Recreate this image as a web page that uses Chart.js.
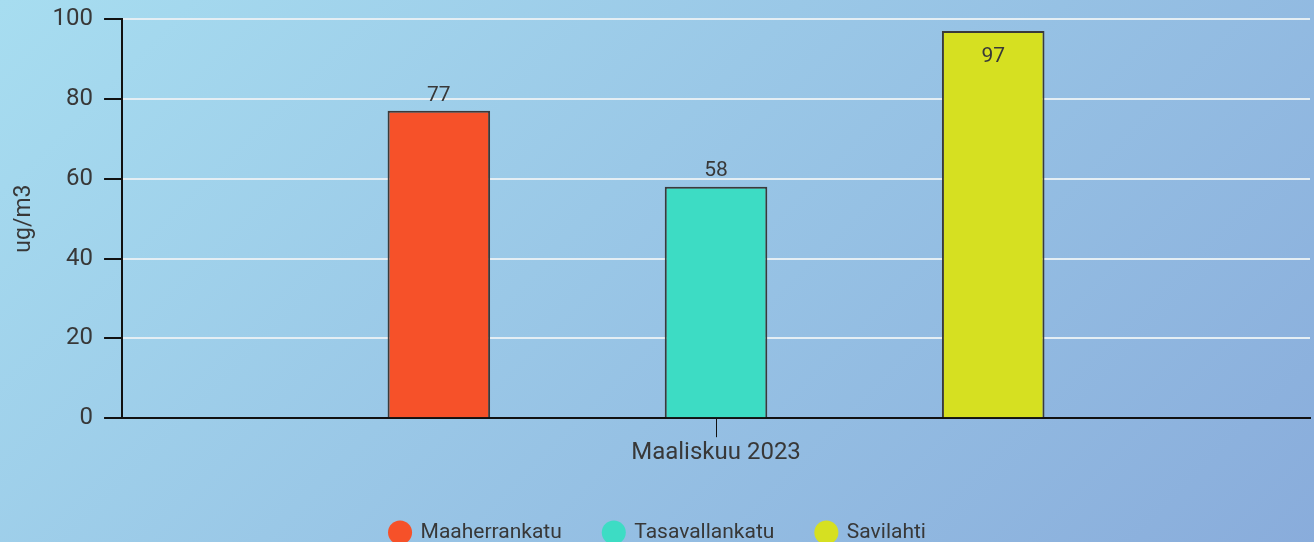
<!DOCTYPE html>
<html>
<head>
<meta charset="utf-8">
<script src="https://cdn.jsdelivr.net/npm/chart.js@4"></script>
<style>
    html, body { margin: 0; padding: 0; overflow: hidden; }
    #wrap {
        width: 1314px;
        height: 553px;
        position: relative;
        background: linear-gradient(135deg, #A7DDF0 0%, #89ACDB 100%);
    }
</style>
</head>
<body>
<div id="wrap"><canvas id="pmChart"></canvas></div>
<script>
const categories = ['Maaliskuu 2023'];
const stations = ['Maaherrankatu', 'Tasavallankatu', 'Savilahti'];
const values = [[77], [58], [97]];
const colors = ['#F65129', '#3DDCC4', '#D6E021'];
const yTicks = [0, 20, 40, 60, 80, 100];

const FONT = 'Roboto';
const TEXT = '#383838';

// value labels on bars (inside the bar if it would hit the top)
const labelPlugin = {
    id: 'barLabels',
    afterDatasetsDraw(chart) {
        const { ctx, chartArea } = chart;
        ctx.save();
        ctx.font = `21px ${FONT}`;
        ctx.fillStyle = TEXT;
        ctx.textAlign = 'center';
        chart.data.datasets.forEach((ds, i) => {
            chart.getDatasetMeta(i).data.forEach((bar, j) => {
                let y = bar.y - 5;
                ctx.textBaseline = 'bottom';
                if (y - 22 < chartArea.top) {
                    y = bar.y + 15;
                    ctx.textBaseline = 'top';
                }
                ctx.fillText(String(ds.data[j]), bar.x, y);
            });
        });
        ctx.restore();
    }
};

new Chart(document.getElementById('pmChart'), {
    type: 'bar',
    data: {
        labels: categories,
        datasets: stations.map((name, i) => ({
            label: name,
            data: values[i],
            backgroundColor: colors[i],
            borderColor: '#3a3a3a',
            borderWidth: 2,
            categoryPercentage: 0.7,
            barPercentage: 0.37
        }))
    },
    options: {
        responsive: true,
        maintainAspectRatio: false,
        animation: false,
        layout: { padding: { top: 0, right: 4, left: 6, bottom: 0 } },
        plugins: {
            legend: {
                position: 'bottom',
                labels: {
                    usePointStyle: true,
                    pointStyle: 'circle',
                    boxWidth: 20,
                    boxHeight: 17,
                    padding: 42,
                    color: TEXT,
                    font: { family: FONT, size: 21 },
                    generateLabels(chart) {
                        const items = Chart.defaults.plugins.legend.labels.generateLabels(chart);
                        items.forEach(it => { it.lineWidth = 0; it.strokeStyle = 'transparent'; });
                        return items;
                    }
                }
            },
            tooltip: { enabled: false }
        },
        scales: {
            x: {
                afterFit(axis) { axis.height += 12; },
                grid: {
                    display: true,
                    offset: false,
                    drawOnChartArea: false,
                    color: '#111',
                    tickColor: '#111',
                    tickLength: 19
                },
                border: { color: '#111', width: 2 },
                ticks: { color: TEXT, font: { family: FONT, size: 24 }, padding: 1 }
            },
            y: {
                min: 0,
                max: 100,
                afterBuildTicks(axis) {
                    axis.ticks = yTicks.map(v => ({ value: v }));
                },
                afterFit(axis) { axis.paddingTop = 19; },
                grid: {
                    color: '#E4EEF4',
                    lineWidth: 2,
                    tickColor: '#111',
                    tickLength: 18
                },
                border: { color: '#111', width: 2 },
                ticks: { color: TEXT, font: { family: FONT, size: 24 }, padding: 11 },
                title: {
                    display: true,
                    text: 'ug/m3',
                    color: TEXT,
                    font: { family: FONT, size: 23 },
                    padding: { bottom: 4 }
                }
            }
        }
    },
    plugins: [labelPlugin]
});
</script>
</body>
</html>
